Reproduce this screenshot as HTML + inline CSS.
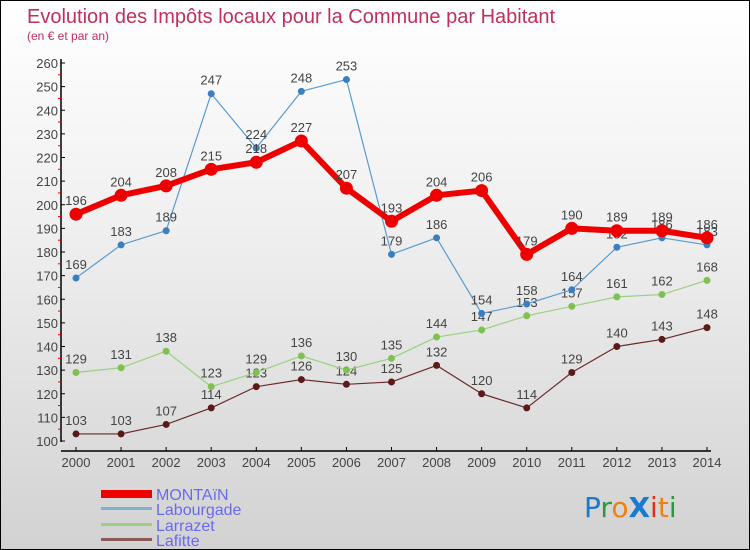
<!DOCTYPE html>
<html><head><meta charset="utf-8"><style>
body{margin:0}
#c{width:750px;height:550px;position:relative;overflow:hidden;box-sizing:border-box;border:1px solid #000;background:linear-gradient(#fff 0%,#f0f0f0 40%,#d2d2d2 100%);font-family:"Liberation Sans",sans-serif}
svg{position:absolute;left:0;top:0}
</style></head><body>
<div id="c">
<svg id="s" width="750" height="550">
<text x="26" y="22" font-size="20" fill="#c0305a">Evolution des Impôts locaux pour la Commune par Habitant</text>
<text x="26" y="39" font-size="12" fill="#c0305a">(en € et par an)</text>
<g id="g"></g>
<g>
<rect x="100" y="489" width="51" height="8" fill="#e00"/>
<text x="155" y="499" font-size="16" fill="#6a6af0">MONTAïN</text>
<rect x="100" y="506" width="51" height="3" fill="#7fb0d0"/>
<text x="155" y="514" font-size="16" fill="#6a6af0">Labourgade</text>
<rect x="100" y="522" width="51" height="3" fill="#9ad080"/>
<text x="155" y="530" font-size="16" fill="#6a6af0">Larrazet</text>
<rect x="100" y="537" width="51" height="3" fill="#8a5a5a"/>
<text x="155" y="545" font-size="16" fill="#6a6af0">Lafitte</text>
</g>
<g font-size="28" font-family="'DejaVu Sans',sans-serif">
<text x="583" y="516"><tspan fill="#1a7ad0">P</tspan><tspan fill="#2a9a3a">r</tspan><tspan fill="#f08010">o</tspan><tspan fill="#1a7ad0" font-weight="bold">X</tspan><tspan fill="#e03010">i</tspan><tspan fill="#f08010">t</tspan><tspan fill="#2a9a3a">i</tspan></text>
</g>
</svg>
</div>
<script>
const years=[2000,2001,2002,2003,2004,2005,2006,2007,2008,2009,2010,2011,2012,2013,2014];
const montain=[196,204,208,215,218,227,207,193,204,206,179,190,189,189,186];
const labourgade=[169,183,189,247,224,248,253,179,186,154,158,164,182,186,183];
const larrazet=[129,131,138,123,129,136,130,135,144,147,153,157,161,162,168];
const lafitte=[103,103,107,114,123,126,124,125,132,120,114,129,140,143,148];
const yTicks=[100,110,120,130,140,150,160,170,180,190,200,210,220,230,240,250,260];
const NS='http://www.w3.org/2000/svg';
const g=document.getElementById('g');
const X=i=>75+i*(706-75)/(years.length-1);
const Y=v=>440-(v-100)*(440-62)/160;
function el(t,a){const e=document.createElementNS(NS,t);for(const k in a)e.setAttribute(k,a[k]);g.appendChild(e);return e;}
let ax=el('line',{x1:60,y1:58,x2:60,y2:441,stroke:'#000','stroke-width':1.5});


let bx=el('line',{x1:60,y1:450,x2:710,y2:450,stroke:'#000','stroke-width':1.5});


yTicks.forEach((v,i)=>{
 el('line',{x1:60,y1:Y(v),x2:64,y2:Y(v),stroke:'#000'});
 if(i<yTicks.length-1)el('line',{x1:57,y1:Y(v+5),x2:60,y2:Y(v+5),stroke:'#e00'});
 const t=el('text',{x:57,y:Y(v)+5,'font-size':13,fill:'#444','text-anchor':'end'});
 t.textContent=v;
 
 
});
years.forEach((y,i)=>{
 el('line',{x1:X(i),y1:446,x2:X(i),y2:450,stroke:'#000'});
 const t=el('text',{x:X(i),y:466,'font-size':13,fill:'#444','text-anchor':'middle'});
 t.textContent=y;
 
 
});
function series(name,vals,color,dot,w,r){
 const p=el('polyline',{points:vals.map((v,i)=>X(i)+','+Y(v)).join(' '),fill:'none',stroke:color,'stroke-width':w,'stroke-linejoin':'round'});
 
 
 vals.forEach((v,i)=>{
  const c=el('circle',{cx:X(i),cy:Y(v),r:r,fill:dot});
  
  
  const t=el('text',{x:X(i),y:Y(v)-9,'font-size':13,fill:'#444','text-anchor':'middle'});
  t.textContent=v;
  
  
 });
}
series('lafitte',lafitte,'#6a2a2a','#5a1a1a',1.2,3.5);
series('larrazet',larrazet,'#9ad080','#80c050',1.2,3.5);
series('labourgade',labourgade,'#5a9ad0','#3a80c0',1.2,3.5);
series('montain',montain,'#e00','#e00',6,6.5);
</script>
</body></html>
